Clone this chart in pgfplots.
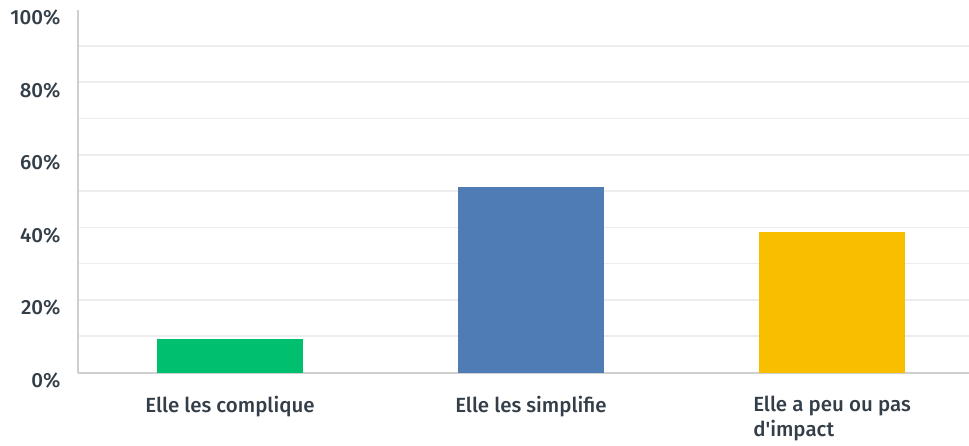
\documentclass[border=0pt]{standalone}
\usepackage{fontspec}
\setmainfont{Fira Sans}[UprightFont={* Medium}]
\usepackage{pgfplots}
\pgfplotsset{compat=1.18}
\definecolor{txt}{HTML}{333E48}
\definecolor{cgreen}{HTML}{00BF6F}
\definecolor{cblue}{HTML}{507CB6}
\definecolor{cyellow}{HTML}{F9BE00}
\definecolor{gridc}{HTML}{EDEDED}
\definecolor{axc}{HTML}{CFCFCF}
\begin{document}
\begin{tikzpicture}
\useasboundingbox (-78pt,-72.5pt) rectangle (891pt,372.5pt);
\begin{axis}[
  at={(0pt,0pt)}, anchor=south west,
  scale only axis, width=891pt, height=363pt,
  xmin=-0.505, xmax=2.455, ymin=0, ymax=100,
  axis lines*=left,
  axis line style={draw=axc, line width=2pt, -},
  ytick={0,20,...,100},
  yticklabel={\pgfmathprintnumber{\tick}\%},
  minor ytick={10,20,...,90},
  ymajorgrids=false, yminorgrids=true,
  minor grid style={draw=gridc, line width=1.6pt},
  major tick length=0pt, minor tick length=0pt,
  xtick={0,1,2},
  xticklabels={Elle les complique, Elle les simplifie, {Elle a peu ou pas\\d\textquotesingle impact}},
  xticklabel style={align=left, font=\fontsize{20.5}{25}\selectfont, text=txt, anchor=north, yshift=-20pt},
  yticklabel style={font=\fontsize{20.5}{22}\selectfont, text=txt, anchor=east, xshift=-14pt, yshift=-8pt},
  /pgf/number format/assume math mode=true,
  ybar, bar width=146pt, bar shift=0pt,
]
\addplot[fill=cgreen, draw=none] coordinates {(0,9.3)};
\addplot[fill=cblue, draw=none] coordinates {(1,51.1)};
\addplot[fill=cyellow, draw=none] coordinates {(2,38.7)};
\end{axis}
\end{tikzpicture}
\end{document}
